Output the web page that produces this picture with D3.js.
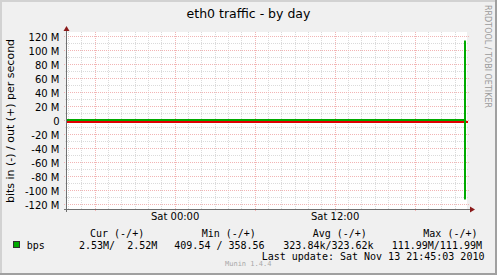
<!DOCTYPE html>
<html><head><meta charset="utf-8">
<script src="https://cdn.jsdelivr.net/npm/d3@7"></script>
<style>html,body{margin:0;padding:0;background:#f0f0f0;overflow:hidden}</style>
</head><body><svg id="c" width="497" height="275"></svg>
<script>
// ---- data ----
const title = "eth0 traffic - by day";
const yLabel = "bits in (-) / out (+) per second";
const sideLabel = "RRDTOOL / TOBI OETIKER";
const sampleTimes = ["2010-11-12T15:51:00Z","2010-11-12T18:00:00Z","2010-11-12T21:00:00Z","2010-11-13T00:00:00Z","2010-11-13T03:00:00Z","2010-11-13T06:00:00Z","2010-11-13T09:00:00Z","2010-11-13T12:00:00Z","2010-11-13T15:00:00Z","2010-11-13T18:00:00Z","2010-11-13T21:35:00Z","2010-11-13T21:42:00Z","2010-11-13T21:46:00Z"];
const outValues = [420, 380, 400, 450, 410, 430, 360, 440, 420, 415, 400, 111990000, 111990000];
const inValues  = [430, 410, 450, 470, 420, 440, 410, 460, 430, 425, 410, 111990000, 111990000];
const yTickValues = [-120e6,-100e6,-80e6,-60e6,-40e6,-20e6,0,20e6,40e6,60e6,80e6,100e6,120e6];
const xTickTimes = ["2010-11-13T00:00:00Z","2010-11-13T12:00:00Z"];
const xTickLabels = ["Sat 00:00","Sat 12:00"];
const timeDomain = ["2010-11-12T15:51:00Z","2010-11-13T21:51:00Z"];
const legendHeaders = ["Cur (-/+)","Min (-/+)","Avg (-/+)","Max (-/+)"];
const legendValues = ["2.53M/  2.52M","409.54 / 358.56","323.84k/323.62k","111.99M/111.99M"];
const seriesName = "bps";
const lastUpdate = "Last update: Sat Nov 13 21:45:03 2010";
const version = "Munin 1.4.4";

// ---- drawing ----
const W = 497, H = 275;
const svg = d3.select("#c");
const P = {l:67, r:467, t:32, b:209};

// background and 3D border
svg.append("rect").attr("width",W).attr("height",H).attr("fill","#f0f0f0");
svg.append("rect").attr("x",0).attr("y",0).attr("width",W).attr("height",2).attr("fill","#d2d2d2");
svg.append("rect").attr("x",0).attr("y",0).attr("width",2).attr("height",H).attr("fill","#d2d2d2");
svg.append("rect").attr("x",0).attr("y",H-2).attr("width",W).attr("height",2).attr("fill","#a0a0a0");
svg.append("rect").attr("x",W-2).attr("y",0).attr("width",2).attr("height",H).attr("fill","#a0a0a0");

// plot area
svg.append("rect").attr("x",P.l).attr("y",P.t).attr("width",P.r-P.l).attr("height",P.b-P.t).attr("fill","#ffffff");

const x = d3.scaleUtc().domain(timeDomain.map(d=>new Date(d))).range([P.l,P.r]);
const k = 0.7; // px per M (derived from ticks)
const y = d3.scaleLinear().domain([-(P.b-121)/k*1e6, (121-P.t)/k*1e6]).range([P.b,P.t]);

const crisp = v => Math.round(v)+0.5;
const majCol = "#f2b4b4", minCol = "#dadada";

// grid: hourly / 6-hourly, 10M / 20M
const hours = d3.utcHour.range(x.domain()[0], x.domain()[1]);
const g = svg.append("g");
hours.forEach(h=>{
  const major = h.getUTCHours()%6===0;
  const xx = crisp(x(h)) - 1;
  g.append("line").attr("x1",xx).attr("x2",xx).attr("y1",P.t).attr("y2",P.b+ (major?2:1))
   .attr("stroke", major?majCol:minCol).attr("stroke-width",1).attr("stroke-dasharray","1,1");
});
const yMinor = d3.range(-120e6, 130e6+1, 10e6);
yMinor.forEach(v=>{
  const major = Math.round(v/1e6)%20===0;
  const yy = crisp(y(v)) - 1;
  if (yy < P.t-0.5 || yy > P.b) return;
  g.append("line").attr("x1",P.l-(major?3:2)).attr("x2",P.r+(major?2:1)).attr("y1",yy).attr("y2",yy)
   .attr("stroke", major?majCol:minCol).attr("stroke-width",1).attr("stroke-dasharray","1,1");
});

// zero rule
svg.append("line").attr("x1",P.l).attr("x2",P.r+1).attr("y1",y(0)+1).attr("y2",y(0)+1)
  .attr("stroke","#e00000").attr("stroke-width",2);

// data lines (in drawn negated, same colour)
const line = d3.line().x(d=>x(d.t)).y(d=>y(d.v)).curve(d3.curveStepAfter);
const outData = sampleTimes.map((t,i)=>({t:new Date(t), v:outValues[i]}));
const inData = sampleTimes.map((t,i)=>({t:new Date(t), v:-inValues[i]}));
const dl = svg.append("g").attr("transform","translate(0,-1)");
dl.append("path").datum(inData).attr("d",line).attr("fill","none").attr("stroke","#00aa00").attr("stroke-width",2);
dl.append("path").datum(outData).attr("d",line).attr("fill","none").attr("stroke","#00aa00").attr("stroke-width",2);

// axes
const axCol = "#707070";
svg.append("line").attr("x1",66.5).attr("x2",66.5).attr("y1",P.b+3).attr("y2",P.t-4).attr("stroke",axCol).attr("stroke-width",1);
svg.append("path").attr("d",`M63.5,31 L69.5,31 L66.5,26 Z`).attr("fill","#8b1a1a");
svg.append("line").attr("x1",P.l-3).attr("x2",P.r+4).attr("y1",crisp(P.b)).attr("y2",crisp(P.b)).attr("stroke",axCol).attr("stroke-width",1);
svg.append("path").attr("d",`M470,${P.b-2.5} L470,${P.b+3.5} L475,${P.b+0.5} Z`).attr("fill","#8b1a1a");

// y tick labels
svg.append("g").selectAll("text").data(yTickValues).join("text")
  .attr("x",59.5).attr("y",d=>y(d)).attr("dy","0.36em").attr("text-anchor","end")
  .attr("font-family","DejaVu Sans").attr("font-size",10).attr("fill","#000")
  .text(d=> d===0 ? "0" : `${d/1e6} M`);

// x tick labels
svg.append("g").selectAll("text").data(xTickTimes).join("text")
  .attr("x",d=>x(new Date(d))-0.5).attr("y",220).attr("text-anchor","middle")
  .attr("font-family","DejaVu Sans").attr("font-size",10).attr("fill","#000")
  .text((d,i)=>xTickLabels[i]);

// title
svg.append("text").attr("x",248.5).attr("y",18).attr("text-anchor","middle")
  .attr("font-family","DejaVu Sans").attr("font-size",12.5).attr("fill","#000").text(title);

// y label
svg.append("text").attr("transform","translate(13.5,121) rotate(-90)").attr("text-anchor","middle")
  .attr("font-family","DejaVu Sans").attr("font-size",11).attr("fill","#000").text(yLabel);

// side label
svg.append("text").attr("transform","translate(484.5,56.5) rotate(90)").attr("text-anchor","middle")
  .attr("font-family","DejaVu Sans").attr("font-size",8.5).attr("fill","#9a9a9a")
  .attr("textLength",103).attr("lengthAdjust","spacingAndGlyphs").text(sideLabel);

// legend
const mono = "DejaVu Sans Mono";
const hdrX = [90, 201.7, 312.7, 423.3];
const valX = [79, 174.3, 283.3, 391.7];
svg.append("g").selectAll("text").data(legendHeaders).join("text")
  .attr("x",(d,i)=>hdrX[i]).attr("y",236.5).attr("xml:space","preserve").style("white-space","pre")
  .attr("font-family",mono).attr("font-size",10).attr("fill","#000").text(d=>d);
svg.append("g").selectAll("text").data(legendValues).join("text")
  .attr("x",(d,i)=>valX[i]).attr("y",248.5).attr("xml:space","preserve").style("white-space","pre")
  .attr("font-family",mono).attr("font-size",10).attr("fill","#000").text(d=>d);
svg.append("rect").attr("x",13.5).attr("y",241.5).attr("width",6).attr("height",6)
  .attr("fill","#00aa00").attr("stroke","#303030").attr("stroke-width",1);
svg.append("text").attr("x",26.7).attr("y",248.5).attr("font-family",mono).attr("font-size",10).attr("fill","#000").text(seriesName);
svg.append("text").attr("x",261.7).attr("y",260).attr("xml:space","preserve").style("white-space","pre")
  .attr("font-family",mono).attr("font-size",10).attr("fill","#000").text(lastUpdate);
svg.append("text").attr("x",225).attr("y",266).attr("font-family",mono).attr("font-size",7).attr("fill","#a8a8a8").text(version);
</script>
</body></html>
